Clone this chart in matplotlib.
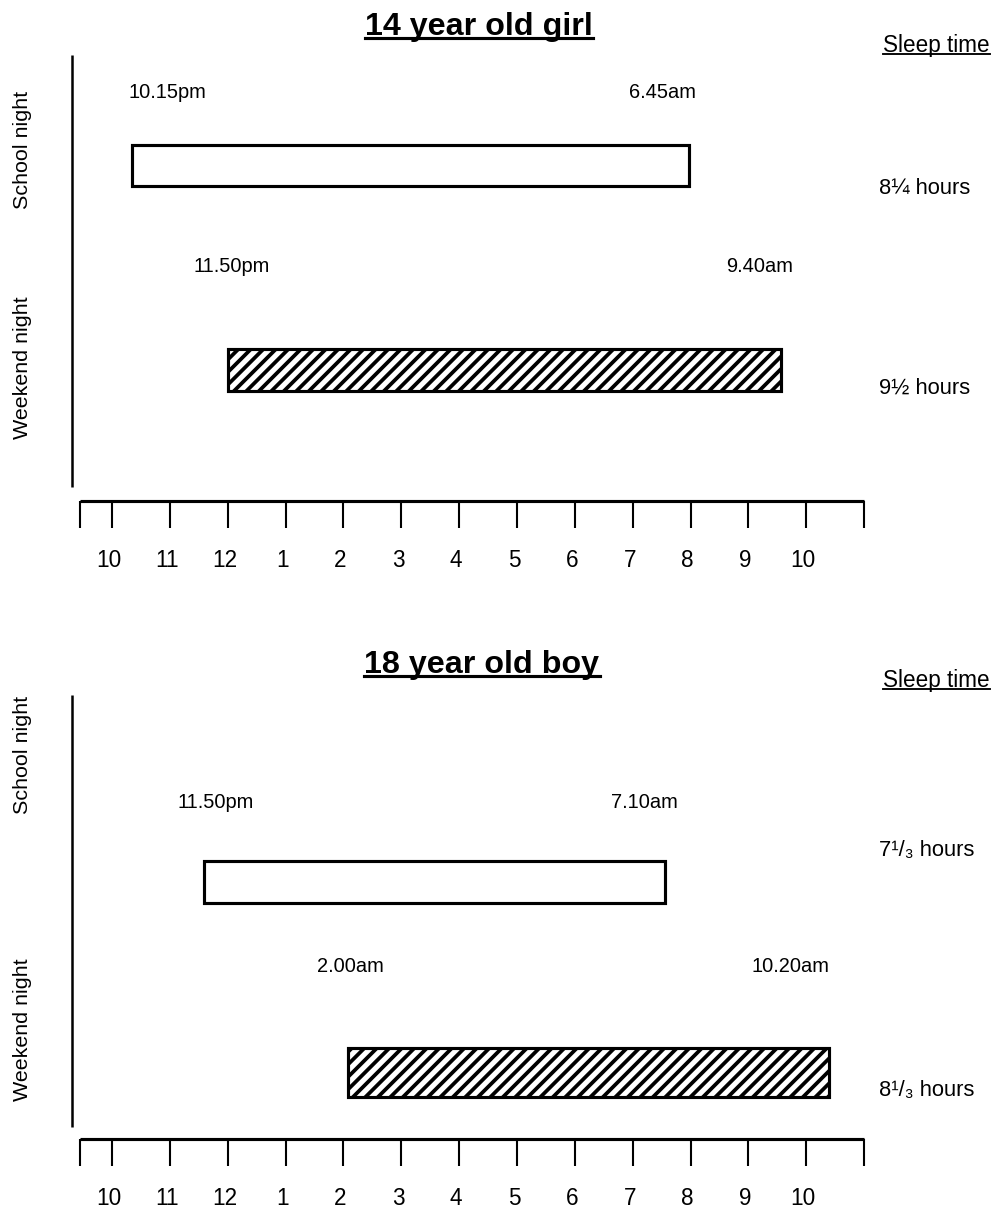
import matplotlib
matplotlib.use('Agg')
import matplotlib.pyplot as plt
from matplotlib.lines import Line2D

# hour axis: 0 = 10pm, 13 = 11am
hour_ticks = list(range(14))
hour_labels = ['10', '11', '12', '1', '2', '3', '4', '5', '6', '7', '8', '9', '10']

titles = ['14 year old girl', '18 year old boy']
rows = ['School night', 'Weekend night']

girl_start = [0.35, 2.0]
girl_end = [9.97, 11.56]
boy_start = [1.59, 4.08]
boy_end = [9.56, 12.39]

girl_bed = ['10.15pm', '11.50pm']
girl_wake = ['6.45am', '9.40am']
girl_total = ['8\u00bc hours', '9\u00bd hours']
boy_bed = ['11.50pm', '2.00am']
boy_wake = ['7.10am', '10.20am']
boy_total = ['7\u00b9/\u2083 hours', '8\u00b9/\u2083 hours']

plt.rcParams['hatch.linewidth'] = 1.8

DPI = 150
PX = 57.85   # pixels per hour
X0 = 112     # pixel of 10pm tick
fig = plt.figure(figsize=(991 / DPI, 1211 / DPI), dpi=DPI)
ax = fig.add_axes([0, 0, 1, 1])
ax.set_xlim(-X0 / PX, (991 - X0) / PX)
ax.set_ylim(1211, 0)
ax.axis('off')

def hx(px):
    return (px - X0) / PX

arial = ['Liberation Sans', 'DejaVu Sans']

# layout per panel (pixel y positions)
layouts = [
    dict(title_y=35, title_x=479, sleep_y=52, vtop=55, vbot=487,
         bar_y=[165.5, 370], bar_h=[41, 42], lab_y=[92, 267],
         bed_x=[0.95, 2.07], wake_x=[9.51, 11.2], tot_y=[188, 388],
         row_y=[150, 368], axis_y=501, tick_lab_y=560),
    dict(title_y=673, title_x=482, sleep_y=687, vtop=695, vbot=1127,
         bar_y=[882, 1072.5], bar_h=[42, 49], lab_y=[802, 966],
         bed_x=[1.80, 4.13], wake_x=[9.20, 11.72], tot_y=[850, 1090],
         row_y=[755, 1030], axis_y=1139, tick_lab_y=1198),
]
starts = [girl_start, boy_start]
ends = [girl_end, boy_end]
beds = [girl_bed, boy_bed]
wakes = [girl_wake, boy_wake]
totals = [girl_total, boy_total]

underline = []
for p, L in enumerate(layouts):
    t = ax.text(hx(L['title_x']), L['title_y'], titles[p], ha='center', va='baseline',
                fontsize=15.5, fontweight='bold', family=arial)
    underline.append((t, 1.5, 3))
    s = ax.text(hx(883), L['sleep_y'], 'Sleep time', ha='left', va='baseline',
                fontsize=10.8, family=arial)
    underline.append((s, 0.9, 2))

    ax.vlines(hx(72), L['vtop'], L['vbot'], color='black', lw=1.2)

    for i in range(2):
        w = ends[p][i] - starts[p][i]
        if i == 0:
            ax.barh(L['bar_y'][i], w, left=starts[p][i], height=L['bar_h'][i],
                    facecolor='white', edgecolor='black', linewidth=1.5)
        else:
            ax.barh(L['bar_y'][i], w, left=starts[p][i], height=L['bar_h'][i],
                    facecolor='white', edgecolor='black', linewidth=1.5, hatch='////')
        ax.text(L['bed_x'][i], L['lab_y'][i], beds[p][i], ha='center', va='center',
                fontsize=9.6, family=arial)
        ax.text(L['wake_x'][i], L['lab_y'][i], wakes[p][i], ha='center', va='center',
                fontsize=9.6, family=arial)
        ax.text(hx(879), L['tot_y'][i], totals[p][i], ha='left', va='center',
                fontsize=10.5, family=arial)
        ax.text(hx(23), L['row_y'][i], rows[i], ha='center', va='center',
                rotation=90, fontsize=10.3, family=arial)

    # time axis
    ay = L['axis_y']
    ax.hlines(ay, hx(80), hour_ticks[-1], color='black', lw=1.5)
    ax.vlines([hx(80)] + hour_ticks, ay, ay + 27, color='black', lw=1.0)
    for h, lab in zip(hour_ticks, hour_labels):
        ax.text(h - 0.05, L['tick_lab_y'], lab, ha='center', va='center',
                fontsize=10.8, family=arial)

# underline the headings, a few pixels below the baseline
fig.canvas.draw()
inv = fig.transFigure.inverted()
for t, lw, gap in underline:
    bb = t.get_window_extent()
    xb, yb = t.get_transform().transform(t.get_position())
    (x0, y0), (x1, _) = inv.transform([(bb.x0, yb - gap), (bb.x1, yb - gap)])
    fig.add_artist(Line2D([x0, x1], [y0, y0], color='black', lw=lw,
                          transform=fig.transFigure))

fig.savefig('out.png', dpi=DPI, facecolor='white')
